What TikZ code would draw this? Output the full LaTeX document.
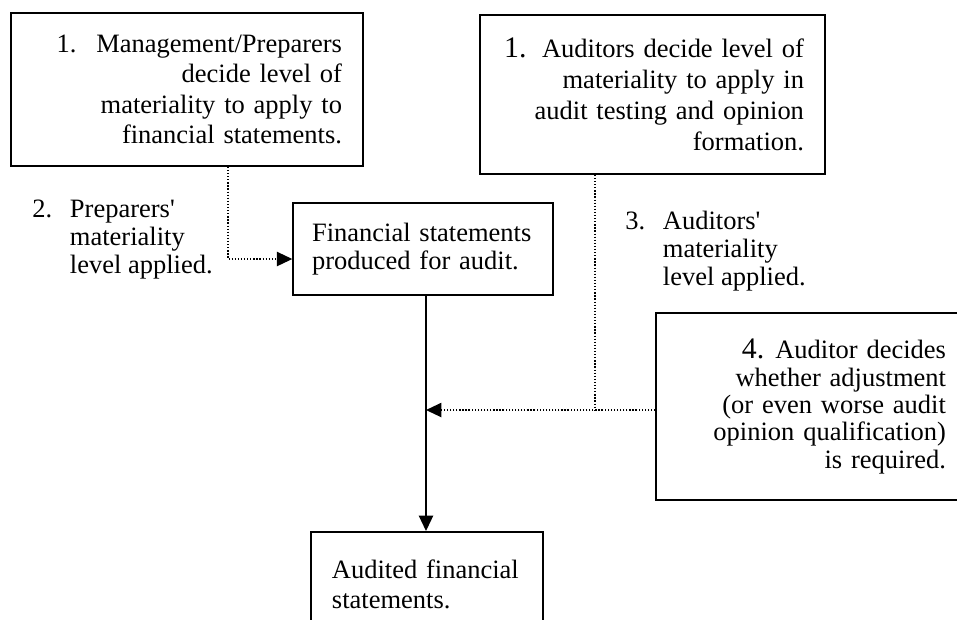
\documentclass[tikz,border=0pt]{standalone}
\usepackage{fontspec}
\setmainfont{Liberation Serif}
\usetikzlibrary{arrows.meta}

\begin{document}
\begin{tikzpicture}[
        x=0.4529pt, y=-0.4529pt,
        every node/.style={font=\fontsize{12}{13.8}\selectfont},
        box/.style={draw, line width=0.7pt, inner xsep=9.5pt, inner ysep=0pt},
        note/.style={inner sep=0pt, anchor=west, font=\fontsize{12}{12.7}\selectfont},
        dotline/.style={line width=0.6pt, dash pattern=on 0.6pt off 0.8pt},
        tip/.style={-{Triangle[length=7pt,width=6.5pt]}}
    ]
    \useasboundingbox (0,0) rectangle (957,619);
    \clip (0,0) rectangle (957,619);
    % boxes
    \node (MgmtBox) [box, align=right, text width=140.4pt, minimum height=69.3pt] at (187,89.5)
        {1.\hspace{9pt}Management/Preparers\\ decide level of\\ materiality to apply to\\ financial statements.};
    \node (AudBox) [box, align=right, text width=137.2pt, minimum height=72pt,
        font=\fontsize{12}{14}\selectfont] at (652.5,94.5)
        {{\fontsize{13.5}{14}\selectfont 1.}\hspace{7pt}Auditors decide level of\\ materiality to apply in\\ audit testing and opinion\\ formation.};
    \node (DraftBox) [box, align=left, inner xsep=8.6pt, text width=100.5pt, minimum height=41.7pt,
        font=\fontsize{12}{12.4}\selectfont] at (423,249)
        {Financial statements\\ produced for audit.};
    \node (DecideBox) [box, align=right, text width=121.8pt, minimum height=84.7pt,
        font=\fontsize{12}{12.4}\selectfont] at (811.5,406.5)
        {{\fontsize{13.5}{14}\selectfont 4.}\hspace{5pt}Auditor decides\\ whether adjustment\\ (or even worse audit\\ opinion qualification)\\ is required.};
    \node (AuditedBox) [box, anchor=north, align=left, text width=86.1pt, minimum height=47.6pt] at (427,531)
        {Audited financial\\ statements.};
    % notes
    \node (PrepNote) [note] at (32,240)
        {\begin{tabular}{@{}l@{\hspace{8pt}}l@{}}2.&Preparers\textquotesingle\\ &materiality\\ &level applied.\end{tabular}};
    \node (AudNote) [note] at (625,252)
        {\begin{tabular}{@{}l@{\hspace{8pt}}l@{}}3.&Auditors\textquotesingle\\ &materiality\\ &level applied.\end{tabular}};
    % connectors
    \coordinate (PrepBend) at (228,259);
    \coordinate (AudBend) at (595,410);
    \coordinate (Merge) at (426,410);
    \draw[dotline, tip] (MgmtBox.south -| PrepBend) -- (PrepBend) -- (DraftBox.west |- PrepBend);
    \draw[line width=0.7pt, tip] (DraftBox.south -| Merge) -- (AuditedBox.north -| Merge);
    \draw[dotline] (AudBox.south -| AudBend) -- (AudBend);
    \draw[dotline, tip] (DecideBox.west |- Merge) -- (Merge);
\end{tikzpicture}
\end{document}
